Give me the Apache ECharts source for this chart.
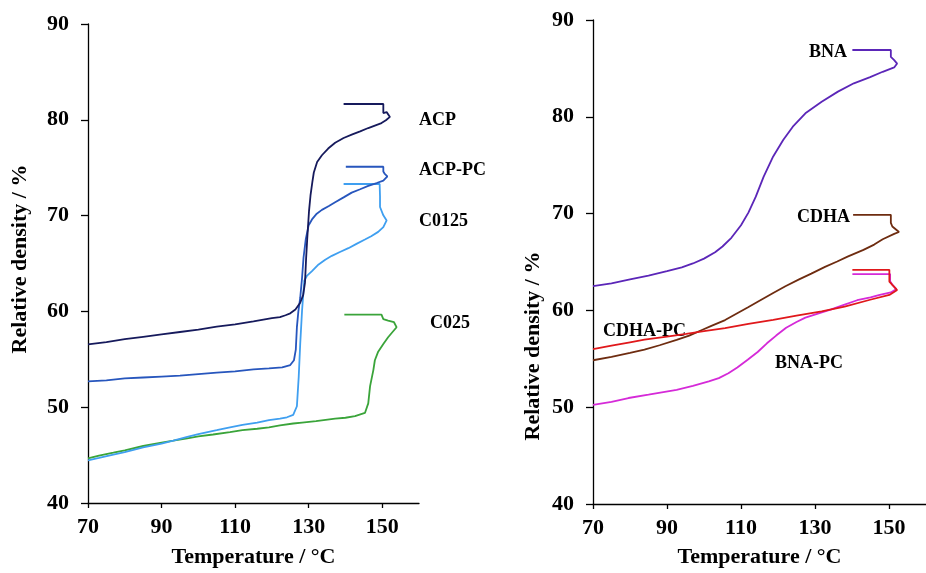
<!DOCTYPE html>
<html>
<head>
<meta charset="utf-8">
<script src="https://cdn.jsdelivr.net/npm/echarts@6/dist/echarts.min.js"></script>
<style>
html,body{margin:0;padding:0;background:#fff;}
#chart{width:926px;height:573px;}
</style>
</head>
<body>
<div id="chart"></div>
<script>
// ---- Data (Temperature °C, Relative density %) in path order ----
const xTicks = [70, 90, 110, 130, 150];
const yTicks = [40, 50, 60, 70, 80, 90];

const ACP = [[70,56.55],[75,56.8],[80,57.1],[85,57.35],[90,57.6],[95,57.85],[100,58.1],[105,58.4],[110,58.65],[115,58.95],[120,59.3],[122.2,59.4],[123.7,59.6],[125,59.8],[126.4,60.2],[127.7,60.9],[128.5,61.7],[129.0,63.0],[129.3,65.5],[129.6,67.5],[129.8,68.7],[130.1,70.5],[130.5,72.1],[131.0,73.5],[131.4,74.5],[132.3,75.6],[133.6,76.3],[135.3,77.0],[137.2,77.6],[139.5,78.1],[141.7,78.45],[144,78.8],[146.2,79.14],[148,79.4],[149.8,79.66],[151,79.95],[152.1,80.3],[151.2,80.8],[150.3,80.7],[150.3,81.65],[139.5,81.65]];

const ACP_PC = [[70,52.7],[75,52.8],[80,53.0],[85,53.1],[90,53.2],[95,53.3],[100,53.45],[105,53.6],[110,53.75],[115,53.95],[119.2,54.05],[122.8,54.15],[125,54.4],[126,54.9],[126.5,56.0],[126.8,58.35],[127.2,60.0],[127.7,61.4],[128.2,63.5],[128.6,65.6],[129.2,67.5],[130,69.0],[130.9,69.6],[132.2,70.2],[133.6,70.6],[135.5,71.0],[137.2,71.4],[139.5,71.9],[141.7,72.4],[144,72.75],[146.2,73.1],[148.5,73.4],[150.3,73.65],[151.4,74.1],[150.7,74.35],[150.3,74.6],[150.3,75.1],[140.1,75.1]];

const C0125 = [[70,44.45],[73,44.7],[76.9,45.05],[80,45.3],[85,45.8],[90,46.2],[93.2,46.5],[97,46.9],[100,47.2],[105,47.6],[108.6,47.9],[112,48.15],[116,48.4],[119.2,48.66],[122.2,48.8],[124.1,48.95],[125.8,49.2],[126.8,50.1],[127.3,53.2],[127.7,56.6],[128.2,60.07],[128.8,63.2],[129.5,63.7],[130.9,64.2],[132.7,64.9],[134.5,65.4],[136.3,65.8],[138.5,66.2],[140.8,66.6],[143,67.05],[145.3,67.5],[147,67.85],[148.9,68.3],[150.3,68.8],[151.2,69.5],[150.3,70.03],[149.4,70.9],[149.4,72.0],[149.3,73.3],[139.5,73.3]];

const C025 = [[70,44.65],[73,44.95],[76.9,45.25],[80,45.5],[85,45.95],[90,46.3],[93.2,46.5],[97,46.75],[100,46.95],[104,47.15],[108.6,47.4],[112,47.6],[116,47.75],[119.2,47.9],[122.2,48.1],[125.8,48.3],[128.2,48.4],[132,48.55],[137.2,48.8],[140,48.9],[142.6,49.07],[145.3,49.4],[146.2,50.4],[146.7,52.2],[147.6,53.9],[148,54.9],[148.9,55.8],[150.3,56.6],[151.6,57.3],[153.9,58.35],[153.2,58.87],[151.6,59.04],[150.3,59.2],[149.8,59.66],[139.7,59.66]];

const BNA = [[70,62.5],[75,62.8],[80,63.2],[85,63.6],[90,64.05],[94,64.45],[97,64.85],[100,65.35],[103,66.0],[105,66.6],[107.4,67.5],[110,68.8],[112,70.1],[114,71.75],[116.1,73.8],[118.7,75.9],[121.4,77.6],[124,78.98],[127.4,80.36],[131.8,81.56],[136.2,82.6],[140.5,83.46],[144.9,84.1],[148.3,84.65],[151.4,85.1],[152.2,85.5],[151.4,85.86],[150.5,86.2],[150.5,86.9],[140.1,86.9]];

const CDHA = [[70,54.85],[75,55.2],[80,55.6],[83.9,55.95],[88,56.4],[92.6,56.95],[96,57.4],[99.6,58.0],[102,58.4],[105.7,59.0],[108.5,59.6],[111.8,60.3],[115,61.0],[118.7,61.8],[122,62.5],[125.7,63.2],[129,63.8],[132.7,64.5],[136,65.05],[138.8,65.55],[143.1,66.25],[146,66.8],[148.3,67.35],[151.4,67.9],[152.7,68.1],[150.9,68.67],[150.5,69.04],[150.5,69.87],[140.3,69.87]];

const CDHA_PC = [[70,56.0],[75,56.35],[80,56.7],[83.9,56.97],[90,57.3],[95.2,57.58],[100,57.85],[105.7,58.17],[112,58.6],[118.7,59.03],[125,59.45],[131.8,59.89],[138,60.4],[144.9,61.1],[150.1,61.6],[152.2,62.1],[150.9,62.64],[150.1,62.98],[150.1,64.19],[140.1,64.19]];

const BNA_PC = [[70,50.23],[75,50.55],[79.6,50.95],[85,51.3],[92.6,51.8],[97,52.2],[101.3,52.66],[104,53.0],[106.6,53.5],[109,54.1],[111.8,54.9],[114.5,55.7],[117,56.6],[119.5,57.4],[122.2,58.2],[125,58.8],[127.4,59.25],[131,59.7],[134.4,60.1],[138,60.6],[141.4,61.05],[145,61.35],[147.5,61.6],[150.5,61.85],[152.0,62.2],[151.0,62.6],[150.3,63.0],[150.3,63.75],[140.1,63.75]];

// ---- Styling ----
const FONT = '"Liberation Serif", "Times New Roman", serif';
const axisLineStyle = { lineStyle: { color: '#000', width: 1.3 } };

function xAxisCfg(gi, gap) {
  return {
    gridIndex: gi, type: 'value', min: 70, max: 160,
    name: 'Temperature / °C', nameLocation: 'middle', nameGap: gap,
    nameTextStyle: { fontFamily: FONT, fontWeight: 'bold', fontSize: 22, color: '#000' },
    axisLine: axisLineStyle,
    axisTick: { show: true, length: 5, customValues: xTicks, lineStyle: { color: '#000', width: 1.3 } },
    axisLabel: { customValues: xTicks, fontFamily: FONT, fontWeight: 'bold', fontSize: 22, color: '#000', margin: 13 },
    splitLine: { show: false }
  };
}
function yAxisCfg(gi) {
  return {
    gridIndex: gi, type: 'value', min: 40, max: 90, interval: 10,
    axisLine: { show: true, lineStyle: { color: '#000', width: 1.3 } },
    axisTick: { show: true, length: 7, lineStyle: { color: '#000', width: 1.3 } },
    axisLabel: { fontFamily: FONT, fontWeight: 'bold', fontSize: 22, color: '#000', margin: 19 },
    splitLine: { show: false }
  };
}
function line(name, data, color, gi) {
  return {
    name, type: 'line', data, xAxisIndex: gi, yAxisIndex: gi,
    showSymbol: false, symbol: 'none', smooth: false, animation: false,
    lineStyle: { color, width: 1.8 }
  };
}
function label(text, x, y, align) {
  return { type: 'text', x, y, style: { text, fill: '#000', font: 'bold 18px ' + FONT, align: align || 'left', verticalAlign: 'middle' } };
}

const chart = echarts.init(document.getElementById('chart'), null, { renderer: 'canvas' });
chart.setOption({
  animation: false,
  backgroundColor: '#fff',
  grid: [
    { left: 88, top: 24, width: 331, height: 484 },
    { left: 593, top: 20, width: 344, height: 484 }
  ],
  xAxis: [xAxisCfg(0, 43), xAxisCfg(1, 42)],
  yAxis: [yAxisCfg(0), yAxisCfg(1)],
  series: [
    line('C025', C025, '#3aa43a', 0),
    line('C0125', C0125, '#3f9ff0', 0),
    line('ACP-PC', ACP_PC, '#2756bd', 0),
    line('ACP', ACP, '#161a5c', 0),
    line('BNA', BNA, '#5b26b8', 1),
    line('CDHA', CDHA, '#6e2c10', 1),
    line('BNA-PC', BNA_PC, '#d52ad8', 1),
    line('CDHA-PC', CDHA_PC, '#e0181b', 1)
  ],
  graphic: [
    { type: 'text', x: 20, y: 259, rotation: Math.PI / 2, style: { text: 'Relative density / %', fill: '#000', font: 'bold 22px ' + FONT, align: 'center', verticalAlign: 'middle' } },
    { type: 'text', x: 533, y: 346, rotation: Math.PI / 2, style: { text: 'Relative density / %', fill: '#000', font: 'bold 22px ' + FONT, align: 'center', verticalAlign: 'middle' } },
    label('ACP', 419, 120),
    label('ACP-PC', 419, 170),
    label('C0125', 419, 221),
    label('C025', 430, 323),
    label('BNA', 847, 52, 'right'),
    label('CDHA', 850, 217, 'right'),
    label('CDHA-PC', 603, 331),
    label('BNA-PC', 775, 363)
  ]
});
</script>
</body>
</html>
